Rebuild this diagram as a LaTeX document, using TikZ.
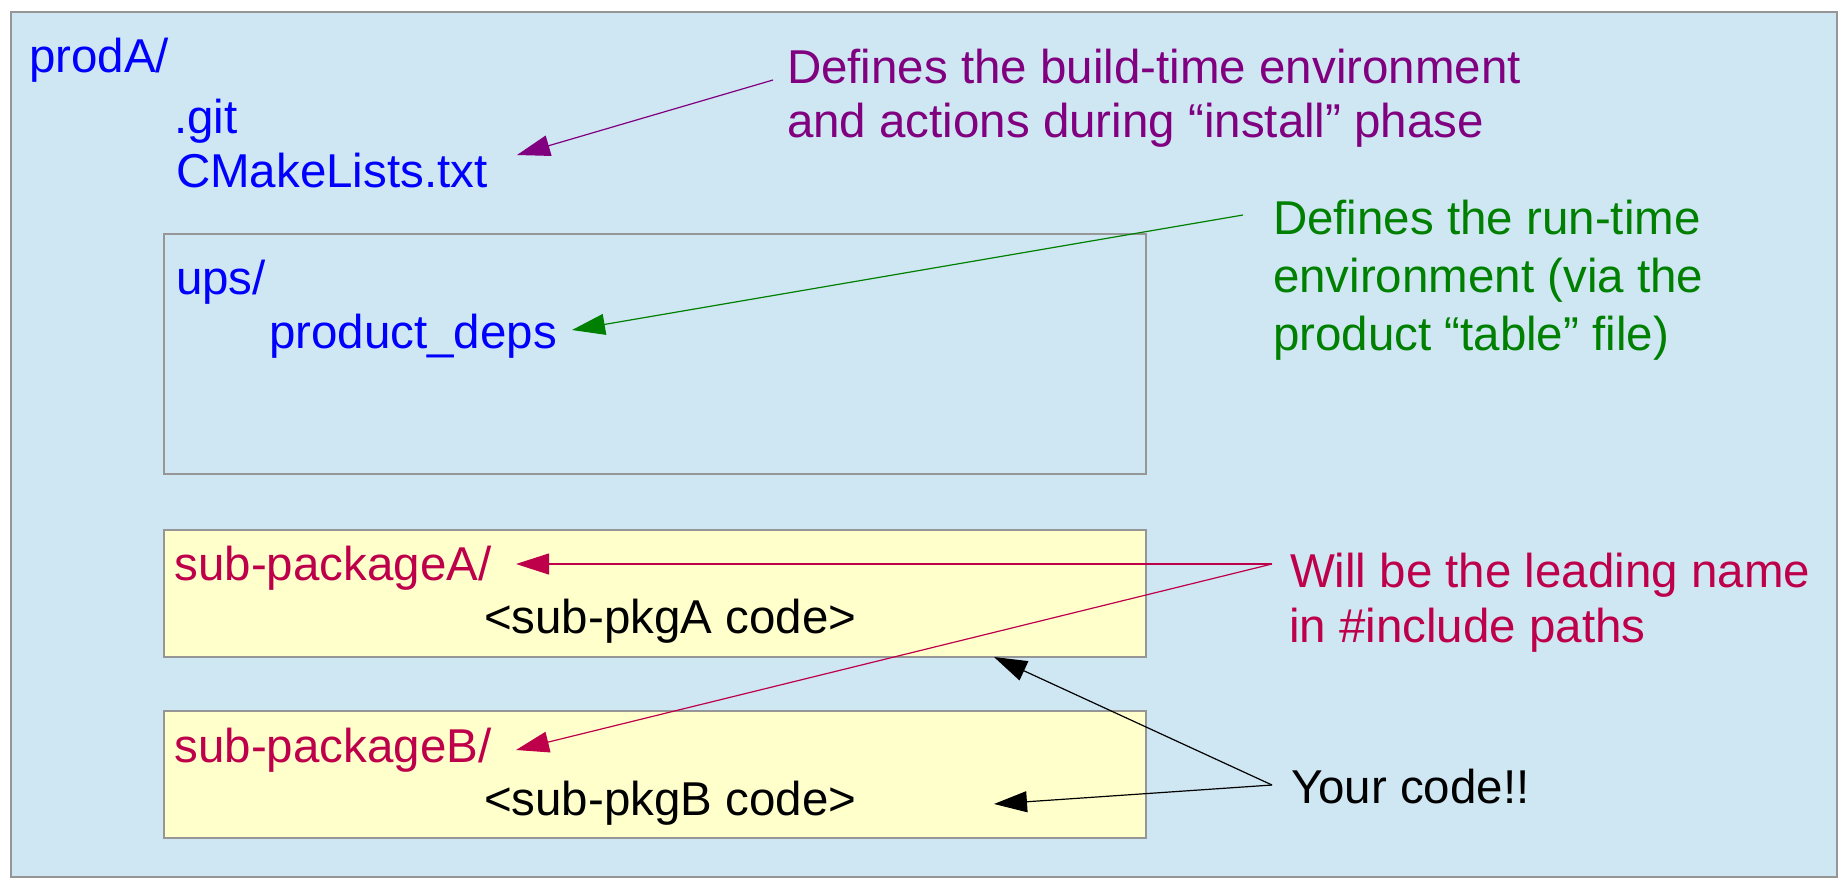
\documentclass[tikz,border=0pt]{standalone}
\usepackage{fontspec}
\setmainfont{Liberation Sans}
\usetikzlibrary{arrows.meta}
\definecolor{bgblue}{RGB}{207,230,243}
\definecolor{boxyellow}{RGB}{255,255,204}
\definecolor{frame}{RGB}{150,150,150}
\definecolor{tblue}{RGB}{0,0,255}
\definecolor{tpurple}{RGB}{128,0,128}
\definecolor{tgreen}{RGB}{0,128,0}
\definecolor{tcrimson}{RGB}{190,0,75}
\begin{document}
\begin{tikzpicture}[x=0.5pt,y=-0.5pt,
  font=\fontsize{23.75}{28}\selectfont,
  txt/.style={anchor=base west, inner sep=0pt, outer sep=0pt},
  frameline/.style={draw=frame, line width=0.6pt},
  conn/.style={line width=0.6pt, -{Triangle[length=16.5pt, width=10.5pt]}}]
\useasboundingbox (0,0) rectangle (1838,879);
\fill[white] (0,0) rectangle (1838,879);
% main area
\path[frameline, fill=bgblue] (11,12) rectangle (1837,877);
% inner boxes
\path[frameline] (164,234) rectangle (1146,474);
\path[frameline, fill=boxyellow] (164,530) rectangle (1146,657);
\path[frameline, fill=boxyellow] (164,711) rectangle (1146,838);

% blue tree text
\node[txt, text=tblue] (prodA) at (29,72) {prodA/};
\node[txt, text=tblue] (git) at (174,133) {.git};
\node[txt, text=tblue] (cmake) at (176,187) {CMakeLists.txt};
\node[txt, text=tblue] (ups) at (176,294) {ups/};
\node[txt, text=tblue] (pdeps) at (269,348) {product\_deps};

% sub packages
\node[txt, text=tcrimson] (subA) at (174.5,580) {sub-packageA/};
\node[txt] (codeA) at (484,633) {<sub-pkgA code>};
\node[txt, text=tcrimson] (subB) at (174.5,762) {sub-packageB/};
\node[txt] (codeB) at (484,815) {<sub-pkgB code>};

% annotations
\node[txt, text=tpurple] (build1) at (787,83) {Defines the build-time environment};
\node[txt, text=tpurple] (build2) at (787,137) {and actions during “install” phase};
\node[txt, text=tgreen] (run1) at (1273,234) {Defines the run-time};
\node[txt, text=tgreen] (run2) at (1273,292) {environment (via the};
\node[txt, text=tgreen] (run3) at (1273,350) {product “table” file)};
\node[txt, text=tcrimson] (lead1) at (1290,587) {Will be the leading name};
\node[txt, text=tcrimson] (lead2) at (1289,642) {in \#include paths};
\node[txt] (yours) at (1291,803) {Your code!!};

% connector end points
\coordinate (pS) at (773,80);
\coordinate (pT) at (517,155);
\coordinate (gS) at (1243,215);
\coordinate (gT) at (572,330);
\coordinate (cS) at (1272,564);
\coordinate (cTA) at (516,564);
\coordinate (cTB) at (516,750);
\coordinate (kS) at (1272,785);
\coordinate (kTA) at (994,657);
\coordinate (kTB) at (994,804);

\draw[conn, tpurple] (pS) -- (pT);
\draw[conn, tgreen] (gS) -- (gT);
\draw[conn, tcrimson] (cS) -- (cTA);
\draw[conn, tcrimson] (cS) -- (cTB);
\draw[conn, black] (kS) -- (kTA);
\draw[conn, black] (kS) -- (kTB);
\end{tikzpicture}
\end{document}
